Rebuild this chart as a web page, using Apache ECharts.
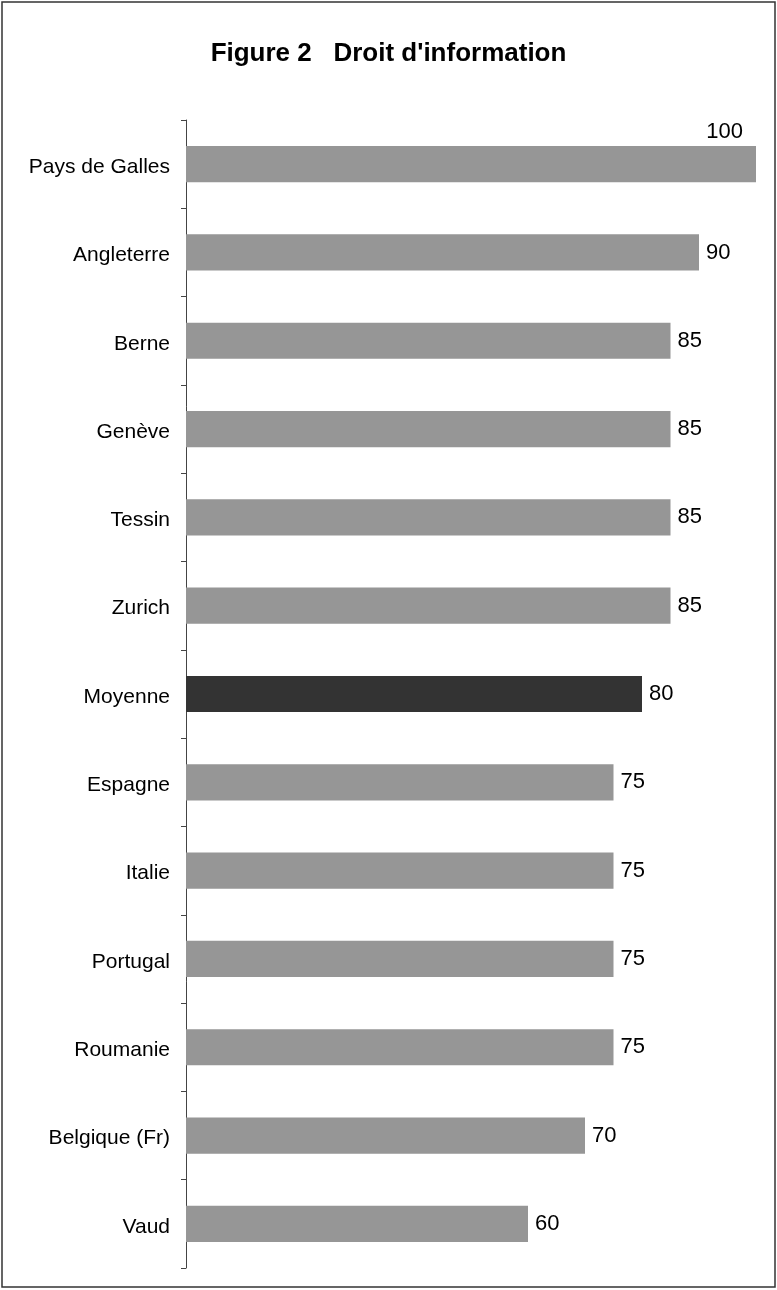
<!DOCTYPE html>
<html>
<head>
<meta charset="utf-8">
<script src="https://cdn.jsdelivr.net/npm/echarts@6/dist/echarts.min.js"></script>
<style>
  html, body { margin: 0; padding: 0; background: #fff; }
  #chart { width: 777px; height: 1290px; }
</style>
</head>
<body>
<div id="chart"></div>
<script>
// Categories, top to bottom
const categories = [
  'Pays de Galles', 'Angleterre', 'Berne', 'Genève', 'Tessin', 'Zurich',
  'Moyenne', 'Espagne', 'Italie', 'Portugal', 'Roumanie', 'Belgique (Fr)', 'Vaud'
];
// Scores (droit d'information)
const scores = [100, 90, 85, 85, 85, 85, 80, 75, 75, 75, 75, 70, 60];
// Category drawn in dark as the average
const highlightCategory = 'Moyenne';

const FONT = '"Liberation Sans", Arial, Helvetica, sans-serif';
const chart = echarts.init(document.getElementById('chart'), null, { renderer: 'canvas' });

const barData = categories.map((name, i) => {
  const item = {
    value: scores[i],
    itemStyle: { color: name === highlightCategory ? '#333333' : '#969696' }
  };
  if (scores[i] === 100) {
    // full-width bar: value placed above its right end
    item.label = {
      position: ['100%', 0],
      align: 'right',
      verticalAlign: 'bottom',
      offset: [-13, -3]
    };
  }
  return item;
});

chart.setOption({
  animation: false,
  backgroundColor: '#ffffff',
  title: {
    text: "Figure 2   Droit d'information",
    left: 'center',
    top: 36,
    textStyle: { fontFamily: FONT, fontSize: 26, fontWeight: 'bold', color: '#000' }
  },
  graphic: [{
    type: 'rect',
    shape: { x: 2, y: 2, width: 773, height: 1285 },
    style: { fill: 'none', stroke: '#333', lineWidth: 1.5 },
    silent: true
  }],
  grid: { left: 186, right: 21, top: 120, bottom: 22, containLabel: false },
  xAxis: {
    type: 'value',
    min: 0,
    max: 100,
    show: false
  },
  yAxis: {
    type: 'category',
    data: categories,
    inverse: true,
    axisLine: { show: true, lineStyle: { color: '#444', width: 1 } },
    axisTick: { show: true, length: 5, alignWithLabel: false, lineStyle: { color: '#444' } },
    axisLabel: {
      margin: 16,
      formatter: v => '{c|' + v + '}',
      rich: { c: { fontFamily: FONT, fontSize: 21, color: '#000', padding: [6, 0, 0, 0] } }
    },
    splitLine: { show: false }
  },
  series: [{
    type: 'bar',
    data: barData,
    barWidth: '41%',
    label: {
      show: true,
      position: 'right',
      distance: 7,
      fontFamily: FONT,
      fontSize: 22,
      color: '#000'
    }
  }]
});
</script>
</body>
</html>
